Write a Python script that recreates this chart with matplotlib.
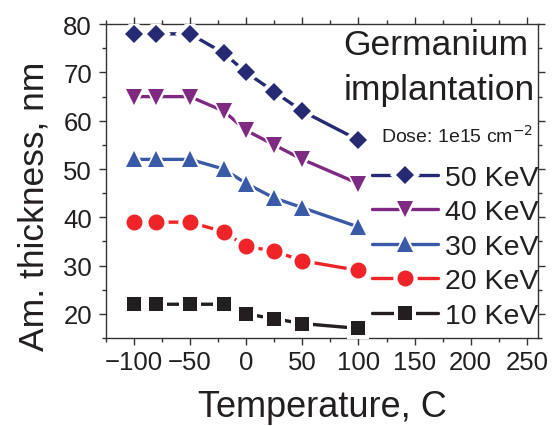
import matplotlib
matplotlib.use("Agg")
import matplotlib.pyplot as plt
from matplotlib.ticker import MultipleLocator
from matplotlib.legend_handler import HandlerTuple

plt.rcParams['font.family'] = ['Liberation Sans', 'DejaVu Sans']

temperature = [-100, -80, -50, -20, 0, 25, 50, 100]
kev50 = [78, 78, 78, 74, 70, 66, 62, 56]
kev40 = [65, 65, 65, 62, 58, 55, 52, 47]
kev30 = [52, 52, 52, 50, 47, 44, 42, 38]
kev20 = [39, 39, 39, 37, 34, 33, 31, 29]
kev10 = [22, 22, 22, 22, 20, 19, 18, 17]
labels = ["50 KeV", "40 KeV", "30 KeV", "20 KeV", "10 KeV"]

series = [kev50, kev40, kev30, kev20, kev10]
colors = ["#252a72", "#7e2a83", "#3a5aa8", "#ee2428", "#231f20"]
markers = ["D", "v", "^", "o", "s"]
msizes = [9.5, 12, 12, 11.5, 10]

fig = plt.figure(figsize=(5.57, 4.27), dpi=100)
ax = fig.add_axes([0.190, 0.206, 0.776, 0.735])

handles = []
for ys, c, m, ms in zip(series, colors, markers, msizes):
    ln, = ax.plot(temperature, ys, '-', color=c, lw=2.4, zorder=2,
                  solid_capstyle='round')
    gap, = ax.plot(temperature, ys, linestyle='none', marker=m, ms=ms + 6,
                   mfc='white', mec='white', mew=0, zorder=3)
    mk, = ax.plot(temperature, ys, linestyle='none', marker=m, ms=ms,
                  mfc=c, mec=c, mew=0, zorder=4)
    handles.append((ln, gap, mk))

ax.set_xlim(-125, 260)
ax.set_ylim(15, 80)
ax.xaxis.set_minor_locator(MultipleLocator(25))
ax.yaxis.set_minor_locator(MultipleLocator(5))
ax.set_xticks([-100, -50, 0, 50, 100, 150, 200, 250])
ax.set_yticks([20, 30, 40, 50, 60, 70, 80])
ax.tick_params(which='both', direction='out', top=True, right=True,
               labeltop=False, labelright=False, width=1, color='#333333')
ax.tick_params(which='major', length=5, labelsize=18.5,
               labelcolor='#231f20')
ax.tick_params(axis='x', which='major', pad=3.5)
ax.tick_params(axis='y', which='major', pad=5)
ax.tick_params(which='minor', length=3)
for s in ax.spines.values():
    s.set_linewidth(1.0)
    s.set_color('#333333')

ax.set_xlabel("Temperature, C", fontsize=26, color='#231f20', labelpad=11)
ax.set_ylabel("Am. thickness, nm", fontsize=25.5, color='#231f20')
ax.yaxis.set_label_coords(-0.128, 0.424)

ax.text(0.549, 0.904, "Germanium", transform=ax.transAxes, fontsize=25.5,
        color='#231f20', ha='left', va='baseline')
ax.text(0.549, 0.761, "implantation", transform=ax.transAxes, fontsize=25.5,
        color='#231f20', ha='left', va='baseline')
ax.text(0.636, 0.624, "Dose: 1e15 cm$^{-2}$", transform=ax.transAxes,
        fontsize=14, color='#231f20', ha='left', va='baseline')

leg = ax.legend(handles, labels,
                handler_map={tuple: HandlerTuple(ndivide=1, pad=0)},
                loc='upper left', bbox_to_anchor=(0.616, 0.552),
                frameon=False, fontsize=20.5, handlelength=2.3,
                labelspacing=0.3, handletextpad=0.25, borderpad=0,
                borderaxespad=0)
for t in leg.get_texts():
    t.set_color('#231f20')

fig.savefig("out.png", dpi=100)
